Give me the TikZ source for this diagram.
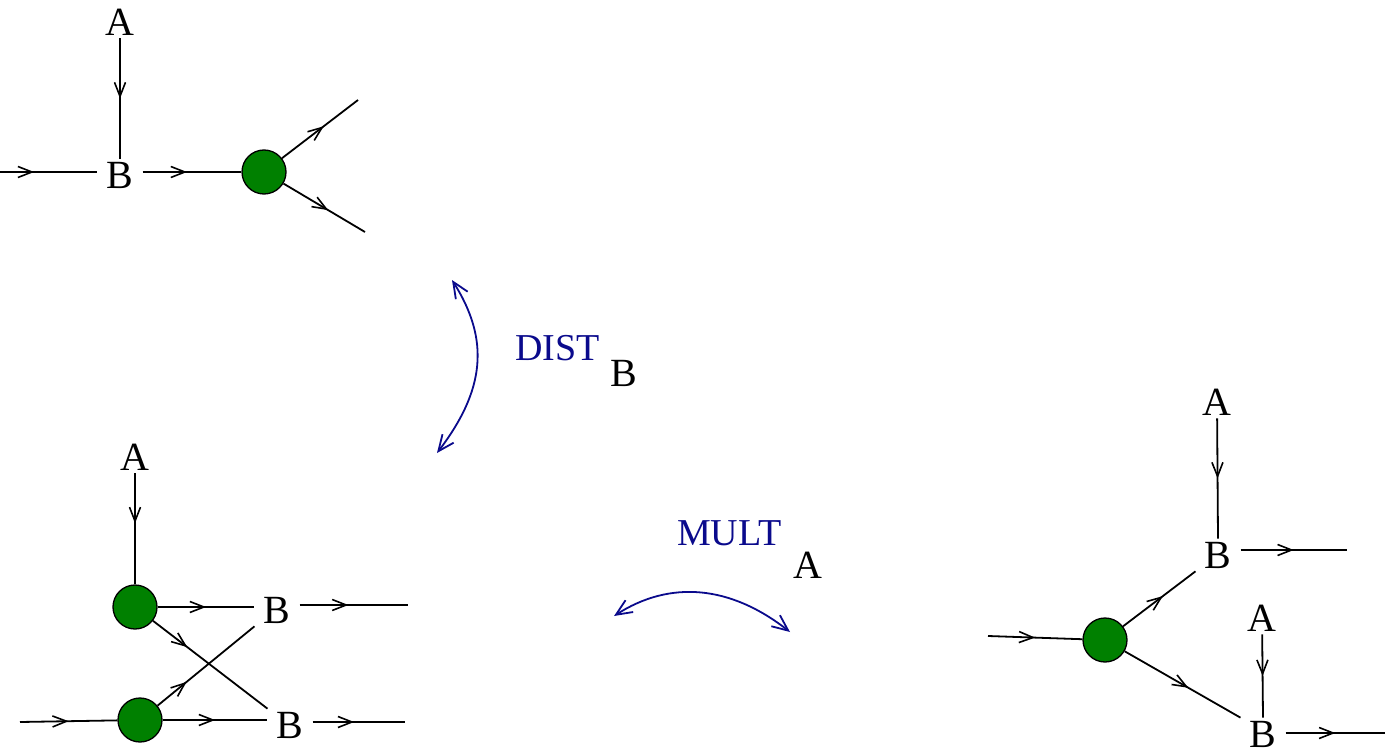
\documentclass[tikz,border=0pt]{standalone}
\usepackage{fontspec}
\setmainfont{Liberation Serif}
\usetikzlibrary{arrows.meta,decorations.markings}
\definecolor{dk}{RGB}{0,128,0}
\definecolor{bl}{RGB}{10,10,140}
\tikzset{
 lt/.style={font=\fontsize{40}{40}\selectfont, inner xsep=9pt, inner ysep=3pt},
 dot/.style={circle, draw=black, line width=1.3pt, fill=dk, minimum size=44pt, inner sep=0pt},
 ln/.style={line width=1.8pt},
 mid/.style={ln, decoration={markings, mark=at position #1 with {\arrow{Straight Barb[length=14pt,width=11pt,line width=1.6pt]}}}, postaction={decorate}},
 mid/.default=0.5,
 blu/.style={draw=bl, line width=1.8pt, {Straight Barb[length=16pt,width=14pt]}-{Straight Barb[length=16pt,width=14pt]}},
 bt/.style={text=bl, font=\fontsize{38}{38}\selectfont, inner sep=0pt},
}
\begin{document}
\begin{tikzpicture}[x=1pt,y=-1pt]
\useasboundingbox (0,0) rectangle (1387,754);
% top left
\node[lt] (A1) at (120,22) {A};
\node[lt] (B1) at (120,175) {B};
\node[dot] (c1) at (264,172) {};
\coordinate (l1) at (0,172);
\coordinate (u1) at (358,100);
\coordinate (d1) at (365,232);
\draw[mid] (A1) -- (B1.north);
\draw[mid=0.35] (l1) -- (B1.west |- l1);
\draw[mid=0.45] (B1.east |- l1) -- (c1);
\draw[mid=0.55] (c1) -- (u1);
\draw[mid=0.55] (c1) -- (d1);
% DIST
\coordinate (p1) at (452,280);
\coordinate (p2) at (437,453);
\draw[blu] (p1) .. controls (490,340) and (485,390) .. (p2);
\node[bt, anchor=west] (dl) at (515,348) {DIST};
\node[lt, inner sep=0pt, anchor=west, xshift=10pt] (dB) at (dl.east |- 0,373) {B};
% bottom left
\node[lt] (A2) at (135,457) {A};
\node[dot] (c2) at (135,607) {};
\node[dot] (c3) at (140,720) {};
\node[lt] (B2) at (277,610) {B};
\node[lt] (B3) at (290,725) {B};
\coordinate (r2) at (408,605);
\coordinate (l3) at (20,722);
\coordinate (r3) at (405,722);
\draw[mid=0.45] (A2) -- (c2);
\draw[mid=0.5] (c2) -- (B2.west |- c2);
\draw[mid=0.45] (B2.east |- r2) -- (r2);
\draw[mid=0.5] (l3) -- (c3);
\draw[mid=0.5] (c3.east) -- (B3.west |- c3);
\draw[mid=0.45] (B3.east |- r3) -- (r3);
\draw[mid=0.3] (c2) -- (B3.north west);
\draw[mid=0.3] (c3) -- (B2.south west);
% MULT
\coordinate (m1) at (614,616);
\coordinate (m2) at (790,632);
\draw[blu] (m1) .. controls (670,580) and (730,585) .. (m2);
\node[bt, anchor=west] (ml) at (677,533) {MULT};
\node[lt, inner sep=0pt, anchor=west, xshift=12pt] (mA) at (ml.east |- 0,565) {A};
% right
\node[lt] (A4) at (1217,402) {A};
\node[lt] (B4) at (1218,555) {B};
\node[dot] (c4) at (1105,640) {};
\node[lt] (A5) at (1262,618) {A};
\node[lt] (B5) at (1263,734) {B};
\coordinate (r4) at (1347,550);
\coordinate (l4) at (988,636);
\coordinate (r5) at (1385,733);
\draw[mid] (A4) -- (B4.north);
\draw[mid=0.5] (B4.east |- r4) -- (r4);
\draw[mid=0.5] (l4) -- (c4);
\draw[mid=0.55] (c4) -- (B4.south west);
\draw[mid=0.55] (c4) -- (B5.north west);
\draw[mid] (A5) -- (B5.north);
\draw[mid=0.5] (B5.east |- r5) -- (r5);
\end{tikzpicture}
\end{document}
